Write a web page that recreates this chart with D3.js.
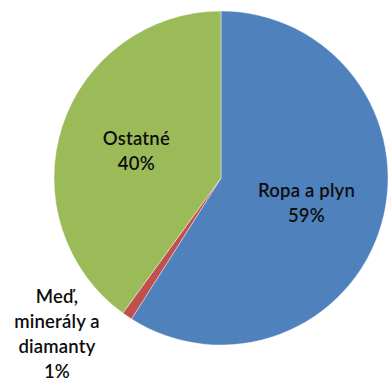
<!DOCTYPE html>
<html>
<head>
<meta charset="utf-8">
<script src="https://cdn.jsdelivr.net/npm/d3@7"></script>
<style>
  html, body { margin: 0; padding: 0; background: #fff; }
  svg { display: block; }
  text { font-family: Lato, "Open Sans", sans-serif; font-weight: 600; fill: #0d0d0d; }
</style>
</head>
<body>
<svg id="chart" width="388" height="382"></svg>
<script>
// Podiel komodít
const categories = ["Ropa a plyn", "Meď, minerály a diamanty", "Ostatné"];
const values = [59, 1, 40];
const labelLines = [["Ropa a plyn", "59%"], ["Meď,", "minerály a", "diamanty", "1%"], ["Ostatné", "40%"]];
const colors = ["#4F81BD", "#C0504D", "#9BBB59"];

const width = 388, height = 382;
const cx = 221, cy = 178, radius = 167;
const lineHeight = 25;

const svg = d3.select("#chart");
const g = svg.append("g").attr("transform", `translate(${cx},${cy})`);

const pie = d3.pie().sort(null).value(d => d)(values);
const arc = d3.arc().innerRadius(0).outerRadius(radius);
const labelArc = d3.arc().innerRadius(89).outerRadius(89);

g.selectAll("path.slice")
  .data(pie)
  .join("path")
  .attr("class", "slice")
  .attr("d", arc)
  .attr("fill", (d, i) => colors[i])
  .attr("stroke", "#fff")
  .attr("stroke-width", 0.4);

// Inner labels for the large slices, outside label for the small one
const outsideLabel = { dx: -164, dy: 155 };

pie.forEach((d, i) => {
  let x, y;
  if (values[i] < 5) {
    x = outsideLabel.dx; y = outsideLabel.dy;
  } else {
    [x, y] = labelArc.centroid(d);
  }
  const lines = labelLines[i];
  const t = g.append("text")
    .attr("text-anchor", "middle")
    .attr("font-size", 18.5)
    .attr("letter-spacing", 0.2)
    .attr("x", x).attr("y", y);
  lines.forEach((ln, j) => {
    t.append("tspan")
      .attr("x", x)
      .attr("dy", j === 0 ? (-(lines.length - 1) / 2 * lineHeight + 7) : lineHeight)
      .text(ln);
  });
});
</script>
</body>
</html>
